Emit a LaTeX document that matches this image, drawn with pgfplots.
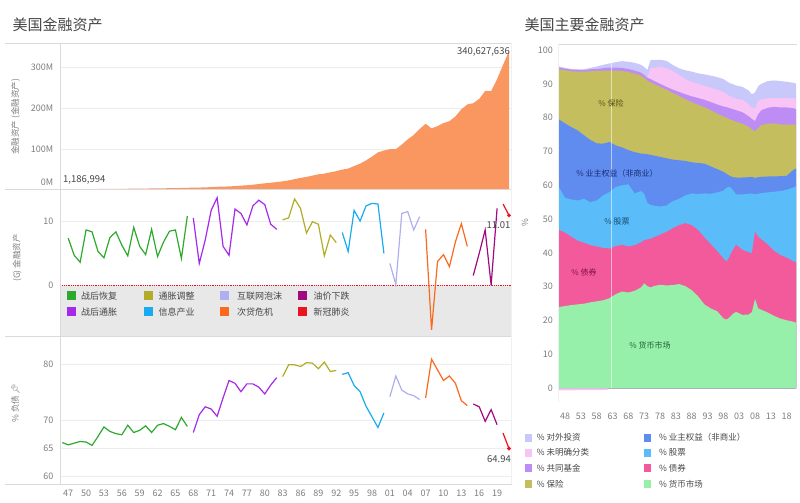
\documentclass[border=0pt]{standalone}
\usepackage{pgfplots}
\pgfplotsset{compat=1.18}
\usepackage{fontspec}
\setmainfont{Noto Sans CJK SC}
\newfontfamily\emoji{Noto Emoji}

\definecolor{areaor}{RGB}{250,150,95}
\definecolor{cgreen}{RGB}{45,170,45}
\definecolor{cpurple}{RGB}{165,40,235}
\definecolor{colive}{RGB}{178,172,40}
\definecolor{cblue}{RGB}{25,170,240}
\definecolor{clav}{RGB}{175,175,240}
\definecolor{corange}{RGB}{250,105,30}
\definecolor{cmag}{RGB}{160,10,125}
\definecolor{cred}{RGB}{235,20,30}
\definecolor{rfdi}{RGB}{200,200,250}
\definecolor{runcl}{RGB}{248,195,245}
\definecolor{rfund}{RGB}{190,140,245}
\definecolor{rins}{RGB}{196,190,95}
\definecolor{requity}{RGB}{95,140,238}
\definecolor{rstock}{RGB}{90,188,248}
\definecolor{rbond}{RGB}{243,90,155}
\definecolor{rmm}{RGB}{150,240,170}
\definecolor{tickgray}{RGB}{125,125,125}
\definecolor{linegray}{RGB}{218,218,218}
\definecolor{bandgray}{RGB}{232,232,232}
\definecolor{txt}{RGB}{70,70,70}

% right chart: cumulative tops of the stacked shares (%)
\pgfplotstableread{
year mm bond stock equity ins fund uncl fdi
1946 24.0 46.8 59.6 79.5 94.3 94.8 94.8 95.2
1948 24.3 46.0 56.3 78.3 94.0 94.5 94.5 94.7
1950 24.6 44.8 55.8 77.2 93.7 94.2 94.2 94.4
1952 24.8 43.6 55.5 76.2 93.6 94.1 94.1 94.3
1954 25.0 43.0 56.0 74.8 93.6 94.1 94.1 94.3
1956 25.4 42.3 55.0 73.4 93.7 94.3 94.3 94.7
1958 25.7 41.9 55.5 72.4 93.8 94.4 94.4 95.1
1960 26.0 41.5 57.0 72.3 93.9 94.6 94.6 95.6
1962 26.6 41.3 58.0 72.8 93.9 94.8 94.8 96.0
1964 27.8 42.0 59.5 71.8 93.9 94.8 94.8 96.4
1966 28.6 42.4 60.0 71.2 93.8 94.7 94.7 96.7
1968 28.3 41.9 60.3 70.4 93.5 94.4 94.4 96.5
1970 28.8 42.3 57.6 69.8 93.0 93.9 93.9 96.2
1972 29.8 43.1 58.3 69.4 92.4 93.3 93.3 95.6
1973 31.0 43.8 57.5 69.3 91.7 92.6 92.6 95.0
1974 30.2 44.0 54.8 69.2 90.9 91.8 91.8 94.1
1975 29.8 44.2 54.2 69.0 90.5 91.4 94.6 97.0
1976 30.2 44.6 54.0 68.8 90.0 90.9 94.8 97.1
1978 30.6 45.4 53.7 68.4 89.1 90.0 95.0 97.1
1980 30.4 46.2 54.0 68.0 88.3 89.1 94.6 96.8
1982 30.5 47.3 55.3 67.6 87.3 88.3 93.8 95.6
1984 30.8 48.2 56.0 67.4 86.4 87.6 92.6 94.6
1986 30.2 48.8 57.0 67.2 85.4 86.9 91.4 94.0
1988 29.0 48.2 57.6 66.8 84.6 86.3 90.6 93.6
1990 27.2 46.8 57.4 66.6 83.8 85.8 90.0 93.1
1992 24.8 44.6 57.6 66.4 83.1 85.3 89.4 92.8
1994 23.6 42.6 57.5 65.6 82.2 84.6 88.9 92.4
1996 22.8 40.6 57.9 64.8 81.2 83.9 88.3 92.0
1998 20.7 38.4 58.4 64.0 80.3 83.3 87.6 91.4
1999 20.3 37.4 59.3 63.4 80.0 83.1 87.0 90.8
2000 21.0 39.0 59.6 62.8 79.5 82.8 86.4 90.2
2001 22.0 40.9 58.6 62.4 79.2 82.5 86.0 89.9
2002 22.6 42.4 57.3 62.3 78.8 82.2 85.6 89.5
2004 21.7 40.9 57.3 62.3 78.2 81.6 85.3 89.1
2006 21.8 40.2 57.5 62.4 77.3 80.4 84.0 88.0
2007 22.5 39.9 57.6 62.5 76.5 79.6 82.9 86.9
2008 26.4 46.3 57.3 62.2 75.9 79.0 82.6 87.5
2009 23.6 44.8 57.5 62.4 77.0 81.0 85.0 89.3
2010 23.2 44.0 57.7 62.5 77.8 82.2 85.4 90.0
2012 22.4 42.5 57.9 62.6 78.2 82.9 85.7 90.8
2014 21.4 40.6 58.1 62.6 78.3 83.2 85.8 91.0
2016 20.6 39.4 58.3 62.7 78.0 83.0 85.8 90.8
2018 20.1 38.6 58.7 62.8 77.9 83.0 85.8 90.6
2020 19.7 37.6 59.3 64.5 78.0 82.8 85.8 90.3
2021 19.4 37.2 59.8 65.0 77.8 82.5 85.6 90.1
}\rdata

\pgfplotsset{
  leftpanel/.style={
    scale only axis, width=451.2pt,
    xmin=1945.67, xmax=2021.42,
    axis line style={draw=none}, tick style={draw=none},
    ymajorgrids, grid style={black!7, line width=0.5pt},
    xtick=\empty,
    /pgf/number format/assume math mode=true,
    tick label style={font=\fontsize{9}{10}\selectfont, text=tickgray},
    yticklabel style={xshift=-3.5pt},
  },
  seg/.style={line width=1.2pt, mark=none},
}

\begin{document}
\begin{tikzpicture}
\useasboundingbox (0,0) rectangle (800pt,503pt);

% titles
\node[anchor=west, font=\fontsize{15}{16}\selectfont, text=txt] at (9pt,478pt) {美国金融资产};
\node[anchor=west, font=\fontsize{15}{16}\selectfont, text=txt] at (521pt,478pt) {美国主要金融资产};

% ---------- top panel: total financial assets (M) ----------
\begin{axis}[leftpanel, at={(60.3pt,313.3pt)}, anchor=south west, height=146.4pt,
  ymin=0, ymax=360, ytick={100,200,300}, yticklabels={100M,200M,300M}]
\addplot[fill=areaor, draw=none] table {
1946 1.187
1947 1.275
1948 1.335
1949 1.383
1950 1.503
1951 1.630
1952 1.716
1953 1.790
1954 1.924
1955 2.086
1956 2.217
1957 2.319
1958 2.530
1959 2.685
1960 2.813
1961 3.061
1962 3.199
1963 3.416
1964 3.707
1965 4.029
1966 4.199
1967 4.63
1968 5.11
1969 5.28
1970 5.66
1971 6.33
1972 7.20
1973 7.64
1974 8.00
1975 8.96
1976 9.97
1977 10.9
1978 12.3
1979 13.9
1980 15.7
1981 17.2
1982 18.7
1983 20.6
1984 22.8
1985 25.9
1986 29.0
1987 31.4
1988 34.6
1989 37.9
1990 39.6
1991 42.7
1992 45.6
1993 49.4
1994 52.0
1995 58.1
1996 64.0
1997 72.0
1998 81.3
1999 91.7
2000 96.3
2001 99.6
2002 99.7
2003 110.9
2004 123.8
2005 134.6
2006 149.1
2007 162.2
2008 150.7
2009 156.3
2010 163.8
2011 168.5
2012 180.0
2013 197.5
2014 209.5
2015 212.7
2016 223.3
2017 242.7
2018 242.7
2019 272.0
2020 306.8
2021 340.6
} \closedcycle;
\end{axis}

% ---------- middle panel: growth rate (%) ----------
\begin{axis}[leftpanel, at={(60.3pt,166.3pt)}, anchor=south west, height=147pt,
  ymin=-8.17, ymax=15.06, ytick={0,10}]
\fill[bandgray] (axis cs:1945.67,-8.17) rectangle (axis cs:2021.42,0);
\draw[cred, densely dotted, line width=0.8pt] (axis cs:1945.67,0) -- (axis cs:2021.42,0);
\addplot[seg, cgreen] coordinates {(1947,7.4) (1948,4.7) (1949,3.6) (1950,8.7) (1951,8.4) (1952,5.3) (1953,4.3) (1954,7.5) (1955,8.4) (1956,6.3) (1957,4.6) (1958,9.1) (1959,6.1) (1960,4.8) (1961,8.8) (1962,4.5) (1963,6.8) (1964,8.5) (1965,8.7) (1966,4.2) (1967,10.9)};
\addplot[seg, cpurple] coordinates {(1968,10.6) (1969,3.4) (1970,7.1) (1971,11.8) (1972,13.8) (1973,6.1) (1974,4.7) (1975,12.0) (1976,11.3) (1977,9.5) (1978,12.5) (1979,13.4) (1980,12.7) (1981,9.6) (1982,8.8)};
\addplot[seg, colive] coordinates {(1983,10.3) (1984,10.6) (1985,13.6) (1986,12.1) (1987,8.2) (1988,10.0) (1989,9.6) (1990,4.6) (1991,7.9) (1992,6.7)};
\addplot[seg, cblue] coordinates {(1993,8.3) (1994,5.3) (1995,11.8) (1996,10.1) (1997,12.5) (1998,12.9) (1999,12.8) (2000,5.0)};
\addplot[seg, clav] coordinates {(2001,3.4) (2002,0.1) (2003,11.3) (2004,11.6) (2005,8.7) (2006,10.8)};
\addplot[seg, corange] coordinates {(2007,8.8) (2008,-7.1) (2009,3.7) (2010,4.8) (2011,2.9) (2012,6.8) (2013,9.7) (2014,6.1)};
\addplot[seg, cmag] coordinates {(2015,1.5) (2016,5.0) (2017,8.7) (2018,0.0) (2019,12.1)};
\addplot[seg, cred, mark=*, mark size=1.2pt, mark indices={2}] coordinates {(2020,12.8) (2021,11.01)};
\end{axis}

% ---------- bottom panel: % liabilities ----------
\begin{axis}[leftpanel, at={(60.3pt,19pt)}, anchor=south west, height=147.3pt,
  ymin=58.6, ymax=84.93, ytick={60,65,70,80},
  xtick={1947,1950,...,2019},
  xticklabels={47,50,53,56,59,62,65,68,71,74,77,80,83,86,89,92,95,98,01,04,07,10,13,16,19},
  xticklabel style={yshift=-2.5pt}]
\addplot[seg, cgreen] coordinates {(1946,66.0) (1947,65.6) (1948,65.9) (1949,66.2) (1950,66.1) (1951,65.5) (1952,67.1) (1953,68.8) (1954,68.0) (1955,67.6) (1956,67.4) (1957,69.1) (1958,67.8) (1959,68.2) (1960,69.0) (1961,67.8) (1962,69.1) (1963,69.4) (1964,68.9) (1965,68.3) (1966,70.5) (1967,68.9)};
\addplot[seg, cpurple] coordinates {(1968,67.8) (1969,71.0) (1970,72.4) (1971,72.0) (1972,70.7) (1973,74.0) (1974,77.1) (1975,76.6) (1976,75.1) (1977,76.5) (1978,76.5) (1979,75.9) (1980,74.7) (1981,76.3) (1982,77.6)};
\addplot[seg, colive] coordinates {(1983,77.8) (1984,79.9) (1985,79.9) (1986,79.6) (1987,80.3) (1988,80.2) (1989,79.2) (1990,80.4) (1991,78.7) (1992,78.9)};
\addplot[seg, cblue] coordinates {(1993,78.2) (1994,78.5) (1995,76.2) (1996,75.1) (1997,72.5) (1998,70.6) (1999,68.7) (2000,71.3)};
\addplot[seg, clav] coordinates {(2001,74.2) (2002,77.9) (2003,75.4) (2004,74.7) (2005,74.4) (2006,73.7)};
\addplot[seg, corange] coordinates {(2007,74.0) (2008,80.9) (2009,79.0) (2010,77.1) (2011,77.9) (2012,76.6) (2013,73.5) (2014,72.6)};
\addplot[seg, cmag] coordinates {(2015,72.9) (2016,72.4) (2017,69.8) (2018,71.9) (2019,69.2)};
\addplot[seg, cred, mark=*, mark size=1.2pt, mark indices={2}] coordinates {(2020,67.7) (2021,64.94)};
\end{axis}

% left frame lines
\draw[linegray, line width=0.6pt] (5pt,459.7pt) -- (511.5pt,459.7pt);
\draw[linegray, line width=0.6pt] (5pt,313.3pt) -- (511.5pt,313.3pt);
\draw[linegray, line width=0.6pt] (5pt,166.3pt) -- (511.5pt,166.3pt);
\draw[linegray, line width=0.6pt] (5pt,19pt) -- (511.5pt,19pt);
\draw[linegray, line width=0.6pt] (60.3pt,19pt) -- (60.3pt,459.7pt);
\draw[black!6, line width=0.6pt] (511.5pt,19pt) -- (511.5pt,459.7pt);

% left labels
\node[anchor=east, font=\fontsize{9}{10}\selectfont, text=tickgray] at (56.8pt,320.3pt) {0M};
\node[anchor=west, font=\fontsize{9.5}{10}\selectfont, text=txt, inner sep=0pt] at (63pt,323pt) {1,186,994};
\node[anchor=east, font=\fontsize{9.5}{10}\selectfont, text=txt, inner sep=0pt] at (510pt,451.3pt) {340,627,636};
\node[anchor=east, font=\fontsize{9.5}{10}\selectfont, text=txt, inner sep=0pt] at (510.5pt,278pt) {11.01};
\node[anchor=east, font=\fontsize{9.5}{10}\selectfont, text=txt, inner sep=0pt] at (511pt,43.7pt) {64.94};
\node[rotate=90, font=\fontsize{8.5}{9}\selectfont, text=tickgray] at (15.5pt,386.3pt) {金融资产 (金融资产)};
\node[rotate=90, font=\fontsize{8.5}{9}\selectfont, text=tickgray] at (17pt,245pt) {(G) 金融资产};
\node[rotate=90, font=\fontsize{8.5}{9}\selectfont, text=tickgray] at (15.5pt,100pt) {\% 负债 {\emoji 📌}};

% left legend
\begin{scope}[font=\fontsize{9}{10}\selectfont]
\fill[cgreen] (67.1pt,202.5pt) rectangle ++(9pt,9pt);
\node[anchor=west, text=txt, inner sep=0pt] at (80.9pt,207pt) {战后恢复};
\fill[colive] (144pt,202.5pt) rectangle ++(9pt,9pt);
\node[anchor=west, text=txt, inner sep=0pt] at (158.4pt,207pt) {通胀调整};
\fill[clav] (220.4pt,202.5pt) rectangle ++(9pt,9pt);
\node[anchor=west, text=txt, inner sep=0pt] at (236.9pt,207pt) {互联网泡沫};
\fill[cmag] (297.9pt,202.5pt) rectangle ++(9pt,9pt);
\node[anchor=west, text=txt, inner sep=0pt] at (313.4pt,207pt) {油价下跌};
\fill[cpurple] (67.1pt,186.8pt) rectangle ++(9pt,9pt);
\node[anchor=west, text=txt, inner sep=0pt] at (80.9pt,191.3pt) {战后通胀};
\fill[cblue] (144pt,186.8pt) rectangle ++(9pt,9pt);
\node[anchor=west, text=txt, inner sep=0pt] at (158.4pt,191.3pt) {信息产业};
\fill[corange] (220.4pt,186.8pt) rectangle ++(9pt,9pt);
\node[anchor=west, text=txt, inner sep=0pt] at (236.9pt,191.3pt) {次贷危机};
\fill[cred] (297.9pt,186.8pt) rectangle ++(9pt,9pt);
\node[anchor=west, text=txt, inner sep=0pt] at (313.4pt,191.3pt) {新冠肺炎};
\end{scope}

% ---------- right chart: stacked shares ----------
\begin{axis}[scale only axis, at={(558.7pt,101.2pt)}, anchor=south west,
  width=237.5pt, height=357.5pt,
  xmin=1946, xmax=2021, ymin=-4, ymax=101.68,
  axis line style={draw=none}, tick style={draw=none},
  ytick={0,10,...,100},
  xtick={1948,1953,...,2018},
  xticklabels={48,53,58,63,68,73,78,83,88,93,98,03,08,13,18},
  /pgf/number format/assume math mode=true,
  tick label style={font=\fontsize{9}{10}\selectfont, text=tickgray},
  xticklabel style={yshift=-8pt},
  yticklabel style={xshift=-2.4pt}]
\addplot[fill=rfdi, draw=none] table[x=year, y=fdi] {\rdata} \closedcycle;
\addplot[fill=runcl, draw=none] table[x=year, y=uncl] {\rdata} \closedcycle;
\addplot[fill=rfund, draw=none] table[x=year, y=fund] {\rdata} \closedcycle;
\addplot[fill=rins, draw=none] table[x=year, y=ins] {\rdata} \closedcycle;
\addplot[fill=requity, draw=none] table[x=year, y=equity] {\rdata} \closedcycle;
\addplot[fill=rstock, draw=none] table[x=year, y=stock] {\rdata} \closedcycle;
\addplot[fill=rbond, draw=none] table[x=year, y=bond] {\rdata} \closedcycle;
\addplot[fill=rmm, draw=none] table[x=year, y=mm] {\rdata} \closedcycle;
\addplot[fill=runcl, draw=none] coordinates {(1946,-0.6) (1950,-0.6) (1955,-0.55) (1961.5,-0.5)} \closedcycle;
\addplot[white, opacity=0.55, line width=0.8pt] coordinates {(1962.6,0) (1962.6,96.1)};
\end{axis}

\draw[linegray, line width=0.6pt] (558.7pt,458.7pt) -- (797pt,458.7pt);
\draw[black!6, line width=0.6pt] (558.7pt,101.2pt) -- (558.7pt,458.7pt);
\node[rotate=90, font=\fontsize{8.5}{9}\selectfont, text=tickgray] at (525pt,280pt) {\%};

% labels inside the areas
\begin{scope}[font=\fontsize{8}{9}\selectfont]
\node[text={rgb,255:red,85;green,80;blue,20}] at (611pt,400pt) {\% 保险};
\node[text={rgb,255:red,25;green,45;blue,120}] at (617pt,330pt) {\% 业主权益（非商业）};
\node[text={rgb,255:red,20;green,75;blue,115}] at (617pt,281pt) {\% 股票};
\node[text={rgb,255:red,125;green,20;blue,70}] at (584pt,231pt) {\% 债券};
\node[text={rgb,255:red,30;green,95;blue,50}] at (650pt,158pt) {\% 货币市场};
\end{scope}

% right legend
\begin{scope}[font=\fontsize{8.5}{9}\selectfont]
\fill[rfdi] (525pt,61.3pt) rectangle ++(7pt,8pt);
\node[anchor=west, text=txt, inner sep=0pt] at (536.7pt,65.3pt) {\% 对外投资};
\fill[runcl] (525pt,46.3pt) rectangle ++(7pt,8pt);
\node[anchor=west, text=txt, inner sep=0pt] at (536.7pt,50.3pt) {\% 未明确分类};
\fill[rfund] (525pt,30.7pt) rectangle ++(7pt,8pt);
\node[anchor=west, text=txt, inner sep=0pt] at (536.7pt,34.7pt) {\% 共同基金};
\fill[rins] (525pt,15pt) rectangle ++(7pt,8pt);
\node[anchor=west, text=txt, inner sep=0pt] at (536.7pt,19pt) {\% 保险};
\fill[requity] (644.3pt,61.3pt) rectangle ++(7pt,8pt);
\node[anchor=west, text=txt, inner sep=0pt] at (659pt,65.3pt) {\% 业主权益（非商业）};
\fill[rstock] (644.3pt,46.3pt) rectangle ++(7pt,8pt);
\node[anchor=west, text=txt, inner sep=0pt] at (659pt,50.3pt) {\% 股票};
\fill[rbond] (644.3pt,30.7pt) rectangle ++(7pt,8pt);
\node[anchor=west, text=txt, inner sep=0pt] at (659pt,34.7pt) {\% 债券};
\fill[rmm] (644.3pt,15pt) rectangle ++(7pt,8pt);
\node[anchor=west, text=txt, inner sep=0pt] at (659pt,19pt) {\% 货币市场};
\end{scope}
\end{tikzpicture}
\end{document}
